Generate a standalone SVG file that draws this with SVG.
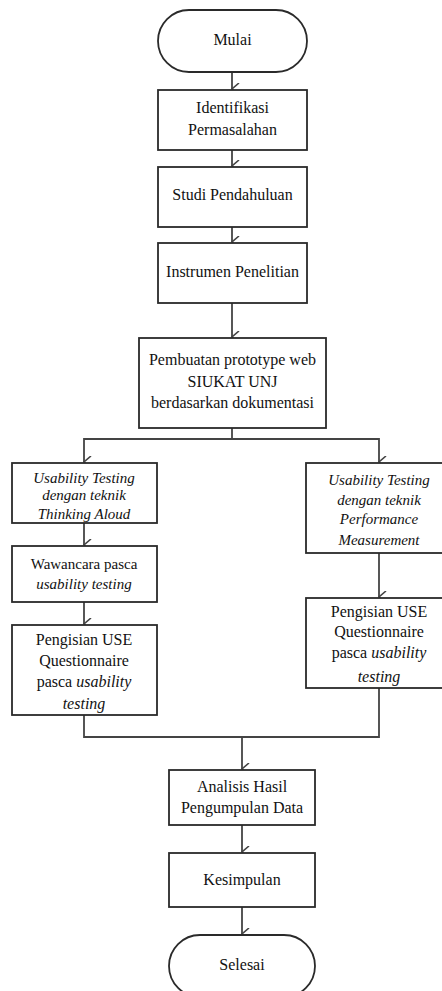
<svg xmlns="http://www.w3.org/2000/svg" width="442" height="991" viewBox="0 0 442 991">
<style>
.box{fill:#fff;stroke:#2a2a2a;stroke-width:1.8}
.t{font-family:"Liberation Serif","Times New Roman",serif;font-size:16px;fill:#111;text-anchor:middle}
.i{font-style:italic}
.s{font-size:15px}
.c{fill:none;stroke:#444;stroke-width:1.8}
</style>
<defs>
<marker id="a" viewBox="0 0 12 10" refX="6" refY="9" markerWidth="12" markerHeight="10" markerUnits="userSpaceOnUse" orient="auto-start-reverse">
<path d="M0,2 L6,9 L12,2" fill="none" stroke="#444" stroke-width="1.6"/>
</marker>
</defs>
<rect width="442" height="991" fill="#fff"/>
<g id="connectors">
<path class="c" d="M232,72 V89" marker-end="url(#a)"/>
<path class="c" d="M232,150 V166" marker-end="url(#a)"/>
<path class="c" d="M232,227 V242" marker-end="url(#a)"/>
<path class="c" d="M232,303 V337" marker-end="url(#a)"/>
<path class="c" d="M232,428 V439"/>
<path class="c" d="M84,462 V439 H379 V462" marker-end="url(#a)" marker-start="url(#a)"/>
<path class="c" d="M84,523 V545" marker-end="url(#a)"/>
<path class="c" d="M84,602 V624" marker-end="url(#a)"/>
<path class="c" d="M379,553 V597" marker-end="url(#a)"/>
<path class="c" d="M84,715 V737 H379 V688"/>
<path class="c" d="M242,737 V769" marker-end="url(#a)"/>
<path class="c" d="M242,825 V852" marker-end="url(#a)"/>
<path class="c" d="M242,907 V934" marker-end="url(#a)"/>
</g>
<g id="mulai"><rect class="box" x="158" y="10" width="149" height="62" rx="31" ry="31"/><text class="t" x="232.5" y="45">Mulai</text></g>
<g id="identifikasi"><rect class="box" x="158" y="90" width="149" height="60"/><text class="t" x="232.5" y="113">Identifikasi</text><text class="t" x="232.5" y="135">Permasalahan</text></g>
<g id="studi"><rect class="box" x="158" y="167" width="149" height="60"/><text class="t" x="232.5" y="200">Studi Pendahuluan</text></g>
<g id="instrumen"><rect class="box" x="158" y="243" width="149" height="60"/><text class="t" x="232.5" y="277">Instrumen Penelitian</text></g>
<g id="pembuatan"><rect class="box" x="139" y="338" width="187" height="90"/><text class="t" x="232.5" y="365">Pembuatan prototype web</text><text class="t" x="232.5" y="387">SIUKAT UNJ</text><text class="t" x="232.5" y="408">berdasarkan dokumentasi</text></g>
<g id="usability-thinking"><rect class="box" x="12" y="463" width="145" height="60"/><text class="t s i" x="84" y="483">Usability Testing</text><text class="t s i" x="84" y="500">dengan teknik</text><text class="t s i" x="84" y="519">Thinking Aloud</text></g>
<g id="wawancara"><rect class="box" x="12" y="546" width="145" height="56"/><text class="t s" x="84" y="569">Wawancara pasca</text><text class="t s i" x="84" y="589">usability testing</text></g>
<g id="pengisian-kiri"><rect class="box" x="12" y="625" width="145" height="90"/><text class="t" x="84" y="645">Pengisian USE</text><text class="t" x="84" y="666">Questionnaire</text><text class="t" x="84" y="687">pasca <tspan class="i">usability</tspan></text><text class="t i" x="84" y="709">testing</text></g>
<g id="usability-performance"><rect class="box" x="306" y="463" width="146" height="90"/><text class="t s i" x="379" y="485">Usability Testing</text><text class="t s i" x="379" y="505">dengan teknik</text><text class="t s i" x="379" y="524">Performance</text><text class="t s i" x="379" y="545">Measurement</text></g>
<g id="pengisian-kanan"><rect class="box" x="306" y="598" width="146" height="90"/><text class="t" x="379" y="617">Pengisian USE</text><text class="t" x="379" y="637">Questionnaire</text><text class="t" x="379" y="658">pasca <tspan class="i">usability</tspan></text><text class="t i" x="379" y="682">testing</text></g>
<g id="analisis"><rect class="box" x="169" y="770" width="146" height="55"/><text class="t" x="242" y="792">Analisis Hasil</text><text class="t" x="242" y="813">Pengumpulan Data</text></g>
<g id="kesimpulan"><rect class="box" x="169" y="853" width="146" height="54"/><text class="t" x="242" y="885">Kesimpulan</text></g>
<g id="selesai"><rect class="box" x="169" y="935" width="146" height="62" rx="31" ry="31"/><text class="t" x="242" y="970">Selesai</text></g>
</svg>
